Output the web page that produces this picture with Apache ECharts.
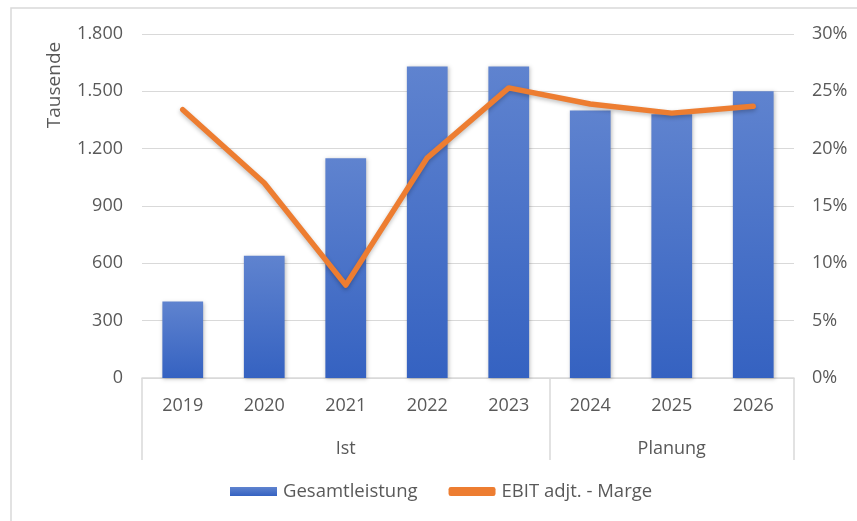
<!DOCTYPE html>
<html>
<head>
<meta charset="utf-8">
<script src="https://cdn.jsdelivr.net/npm/echarts@6/dist/echarts.min.js"></script>
<style>
  html, body { margin: 0; padding: 0; background: #fff; }
  #chart { width: 857px; height: 521px; }
</style>
</head>
<body>
<div id="chart"></div>
<script>
// Daten
var years = ['2019', '2020', '2021', '2022', '2023', '2024', '2025', '2026'];
var groupLabels = ['', '', 'Ist', '', '', '', 'Planung', ''];
var groupStarts = [0, 5]; // Index, an dem eine Gruppe beginnt
var gesamtleistung = [400, 640, 1150, 1630, 1630, 1400, 1380, 1500];
var ebitMarge = [23.4, 17.0, 8.1, 19.2, 25.3, 23.9, 23.1, 23.7];

var myChart = echarts.init(document.getElementById('chart'));

var font = 'Open Sans';
var textColor = '#595959';
var lineGrey = '#d9d9d9';

var option = {
    animation: false,
    textStyle: { fontFamily: font },
    grid: { left: 142, right: 63, top: 34, bottom: 143 },
    graphic: [
        {
            type: 'rect',
            shape: { x: 11, y: 8, width: 900, height: 600 },
            style: { fill: 'none', stroke: lineGrey, lineWidth: 1.5 },
            silent: true
        },
        {
            type: 'text',
            x: 55, y: 85,
            rotation: Math.PI / 2,
            style: {
                text: 'Tausende',
                font: '19px "Open Sans"',
                fill: textColor,
                align: 'center',
                verticalAlign: 'middle'
            }
        }
    ],
    legend: {
        bottom: 15,
        left: 225,
        itemGap: 31,
        itemWidth: 47,
        itemHeight: 9,
        textStyle: { color: textColor, fontSize: 18.5, fontFamily: font, padding: [0, 0, 0, 1] },
        data: [
            { name: 'Gesamtleistung', icon: 'rect' },
            { name: 'EBIT adjt. - Marge', icon: 'roundRect' }
        ]
    },
    xAxis: [
        {
            type: 'category',
            data: years,
            axisLine: { lineStyle: { color: lineGrey, width: 1.5 } },
            axisTick: {
                show: true,
                length: 82,
                lineStyle: { color: lineGrey, width: 1.5 },
                interval: function (index) {
                    return groupStarts.indexOf(index) >= 0;
                }
            },
            axisLabel: { color: textColor, fontSize: 18, fontFamily: font, margin: 19, interval: 0 }
        },
        {
            type: 'category',
            data: groupLabels,
            position: 'bottom',
            axisLine: { show: false },
            axisTick: { show: false },
            axisLabel: { color: textColor, fontSize: 18, fontFamily: font, margin: 62, interval: 0 }
        }
    ],
    yAxis: [
        {
            type: 'value',
            min: 0,
            max: 1800,
            interval: 300,
            axisLine: { show: false },
            axisTick: { show: false },
            splitLine: { lineStyle: { color: lineGrey, width: 1 } },
            axisLabel: {
                color: textColor, fontSize: 18, fontFamily: font, margin: 19,
                formatter: function (v) {
                    return v.toString().replace(/\B(?=(\d{3})+(?!\d))/g, '.');
                }
            }
        },
        {
            type: 'value',
            min: 0,
            max: 30,
            interval: 5,
            axisLine: { show: false },
            axisTick: { show: false },
            splitLine: { show: false },
            axisLabel: { color: textColor, fontSize: 18, fontFamily: font, margin: 18, formatter: '{value}%' }
        }
    ],
    series: [
        {
            name: 'Gesamtleistung',
            type: 'bar',
            data: gesamtleistung,
            barWidth: '50%',
            itemStyle: {
                color: new echarts.graphic.LinearGradient(0, 0, 0, 1, [
                    { offset: 0, color: '#5f83cf' },
                    { offset: 1, color: '#3562c1' }
                ]),
                shadowColor: 'rgba(0,0,0,0.25)',
                shadowBlur: 4,
                shadowOffsetX: 1,
                shadowOffsetY: 1
            }
        },
        {
            name: 'EBIT adjt. - Marge',
            type: 'line',
            yAxisIndex: 1,
            data: ebitMarge,
            symbol: 'none',
            lineStyle: {
                color: '#ed7d31',
                width: 5.5,
                cap: 'round',
                join: 'round',
                shadowColor: 'rgba(0,0,0,0.25)',
                shadowBlur: 4,
                shadowOffsetY: 2
            },
            itemStyle: { color: '#ed7d31' }
        }
    ]
};

myChart.setOption(option);

window.addEventListener('resize', function () {
    myChart.resize();
});
</script>
</body>
</html>
